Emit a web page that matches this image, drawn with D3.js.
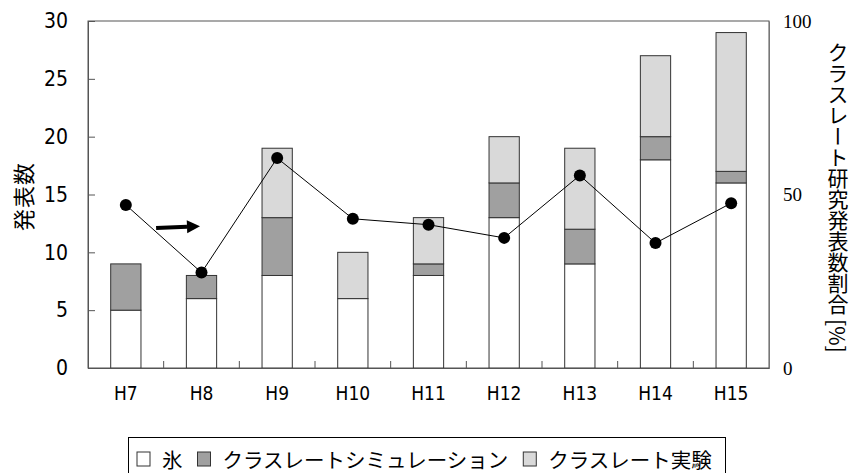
<!DOCTYPE html>
<html lang="ja">
<head>
<meta charset="utf-8">
<title>クラスレート研究発表数</title>
<style>
  body { margin: 0; background: #fff; }
  svg { display: block; }
  .tick text.lab { font-family: "Liberation Sans Narrow", "DejaVu Sans Condensed", "Noto Sans CJK JP", sans-serif; }
  .jp { font-family: "Noto Sans CJK JP", sans-serif; }
</style>
</head>
<body>
<div id="chart"></div>
<script src="https://d3js.org/d3.v7.min.js"></script>
<script>
const years = ["H7", "H8", "H9", "H10", "H11", "H12", "H13", "H14", "H15"];
const ice = [5, 6, 8, 6, 8, 13, 9, 18, 16];
const simulation = [4, 2, 5, 0, 1, 3, 3, 2, 1];
const experiment = [0, 0, 6, 4, 4, 4, 7, 7, 12];
const ratio = [47, 27.5, 60.5, 43, 41.3, 37.5, 55.5, 36, 47.5];
const leftTicks = [0, 5, 10, 15, 20, 25, 30];
const rightTicks = [0, 50, 100];
const seriesNames = ["氷", "クラスレートシミュレーション", "クラスレート実験"];
const seriesColors = ["#ffffff", "#a0a0a0", "#d9d9d9"];

const W = 853, H = 473;
const plot = { left: 88, right: 769, top: 21, bottom: 368 };

const svg = d3.select("#chart").append("svg")
  .attr("width", W).attr("height", H);

const x = d3.scaleBand().domain(years).range([plot.left, plot.right]).paddingInner(0).paddingOuter(0);
const y = d3.scaleLinear().domain([0, 30]).range([plot.bottom, plot.top]);
const y2 = d3.scaleLinear().domain([0, 100]).range([plot.bottom, plot.top]);
const barW = x.bandwidth() * 0.4;

// stacked data
const rows = years.map((yr, i) => ({ year: yr, ice: ice[i], sim: simulation[i], exp: experiment[i] }));
const stack = d3.stack().keys(["ice", "sim", "exp"])(rows);

// frame
svg.append("rect")
  .attr("x", plot.left).attr("y", plot.top)
  .attr("width", plot.right - plot.left).attr("height", plot.bottom - plot.top)
  .attr("fill", "none").attr("stroke", "#555").attr("stroke-width", 1);

// bars
svg.append("g").selectAll("g")
  .data(stack)
  .join("g")
  .attr("fill", (d, i) => seriesColors[i])
  .selectAll("rect")
  .data(d => d.filter(s => s[1] > s[0]))
  .join("rect")
  .attr("x", d => x(d.data.year) + (x.bandwidth() - barW) / 2)
  .attr("y", d => y(d[1]))
  .attr("width", barW)
  .attr("height", d => y(d[0]) - y(d[1]))
  .attr("stroke", "#333")
  .attr("stroke-width", 1);

// left axis
const gl = svg.append("g")
  .attr("transform", `translate(${plot.left},0)`)
  .call(d3.axisLeft(y).tickValues(leftTicks).tickSizeInner(-7).tickSizeOuter(0).tickPadding(20));
gl.select(".domain").attr("stroke", "#555");
gl.selectAll(".tick line").attr("stroke", "#555");
gl.selectAll(".tick text").attr("class", "lab").attr("font-size", 21).attr("fill", "#000");

// right axis
const gr = svg.append("g")
  .attr("transform", `translate(${plot.right},0)`)
  .call(d3.axisRight(y2).tickValues(rightTicks).tickSize(0).tickPadding(14));
gr.select(".domain").attr("stroke", "#777");
gr.selectAll(".tick text")
  .attr("font-family", "'Liberation Serif', 'DejaVu Serif', serif")
  .attr("font-size", 19).attr("fill", "#000");

// bottom axis: ticks between categories
const gb = svg.append("g")
  .attr("transform", `translate(0,${plot.bottom})`)
  .call(d3.axisBottom(x).tickSize(0).tickPadding(19));
gb.select(".domain").attr("stroke", "#555");
gb.selectAll(".tick text").attr("class", "lab").attr("font-size", 19).attr("fill", "#000");
svg.append("g").selectAll("line")
  .data(years.slice(1))
  .join("line")
  .attr("x1", d => x(d)).attr("x2", d => x(d))
  .attr("y1", plot.bottom).attr("y2", plot.bottom - 7)
  .attr("stroke", "#555");

// ratio line
const line = d3.line().x((d, i) => x(years[i]) + x.bandwidth() / 2).y(d => y2(d));
svg.append("path")
  .datum(ratio)
  .attr("d", line)
  .attr("fill", "none").attr("stroke", "#000").attr("stroke-width", 1);
svg.append("g").selectAll("circle")
  .data(ratio)
  .join("circle")
  .attr("cx", (d, i) => x(years[i]) + x.bandwidth() / 2)
  .attr("cy", d => y2(d))
  .attr("r", 6)
  .attr("fill", "#000");

// arrow annotation (band units / left-axis units)
const bandPos = b => plot.left + b * x.bandwidth();
const ax0 = bandPos(0.9), ax1 = bandPos(1.48), ay0 = y(12.1), ay1 = y(12.25);
const ang = Math.atan2(ay1 - ay0, ax1 - ax0);
const headL = 13, headW = 6.5;
const hx = ax1 - headL * Math.cos(ang), hy = ay1 - headL * Math.sin(ang);
svg.append("line")
  .attr("x1", ax0).attr("y1", ay0).attr("x2", hx).attr("y2", hy)
  .attr("stroke", "#000").attr("stroke-width", 4);
svg.append("path")
  .attr("d", `M${ax1},${ay1}L${hx - headW * Math.sin(ang)},${hy + headW * Math.cos(ang)}L${hx + headW * Math.sin(ang)},${hy - headW * Math.cos(ang)}Z`)
  .attr("fill", "#000");

// axis titles
svg.append("text")
  .attr("class", "jp")
  .attr("transform", `translate(22,${(plot.top + plot.bottom) / 2 + 2}) rotate(-90)`)
  .attr("text-anchor", "middle").attr("dominant-baseline", "central")
  .attr("font-size", 22)
  .attr("letter-spacing", 1)
  .text("発表数");

svg.append("text")
  .attr("class", "jp")
  .attr("x", 838).attr("y", 197)
  .attr("text-anchor", "middle")
  .style("writing-mode", "vertical-rl")
  .attr("font-size", 21)
  .text("クラスレート研究発表数割合 [%]");

// legend
const lg = svg.append("g");
lg.append("rect")
  .attr("x", 128.5).attr("y", 437.5).attr("width", 597).attr("height", 50)
  .attr("fill", "#fff").attr("stroke", "#000");
let lx = 137;
seriesNames.forEach((name, i) => {
  lg.append("rect")
    .attr("x", lx).attr("y", 452).attr("width", 13).attr("height", 14)
    .attr("fill", seriesColors[i]).attr("stroke", "#333");
  const t = lg.append("text")
    .attr("class", "jp")
    .attr("x", lx + 25).attr("y", 459)
    .attr("dominant-baseline", "central")
    .attr("font-size", 20.5)
    .text(name);
  lx += 25 + t.node().getComputedTextLength() + 15;
});
</script>
</body>
</html>
